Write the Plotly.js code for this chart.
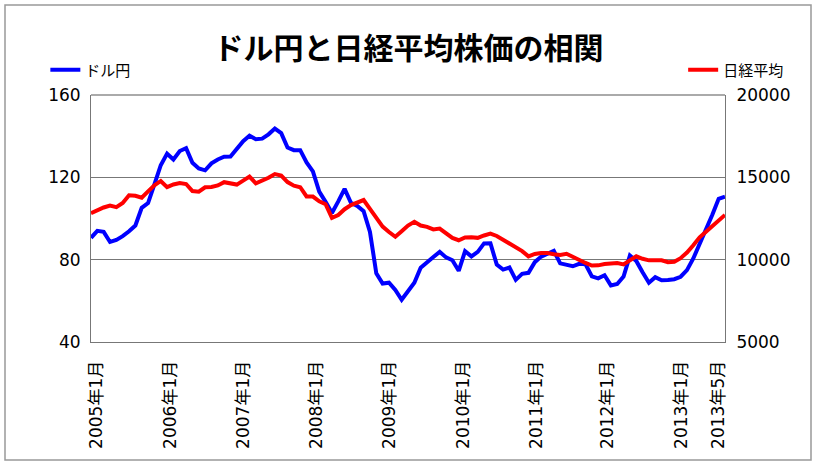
<!DOCTYPE html>
<html><head><meta charset="utf-8">
<script src="https://cdn.plot.ly/plotly-3.0.1.min.js"></script>
<style>html,body{margin:0;padding:0;background:#fff;} #chart{width:817px;height:466px;}</style>
</head><body><div id="chart"></div>
<script>
// USD/JPY (left axis), monthly 2005-01 .. 2013-05
const usdJpy = [90.6, 94.0, 93.5, 88.6, 89.6, 91.4, 93.8, 96.6, 105.2, 107.5,
116.6, 125.9, 131.5, 128.7, 132.8, 134.2, 127.1, 124.3, 123.4, 126.8,
128.7, 130.0, 130.1, 134.1, 137.6, 140.2, 138.5, 138.8, 140.9, 143.7,
141.5, 134.5, 133.2, 133.2, 127.2, 122.9, 113.1, 108.1, 102.7, 108.3,
114.4, 107.6, 106.1, 103.6, 93.5, 73.4, 68.4, 68.8, 65.3, 60.5,
64.5, 68.8, 76.1, 78.9, 81.3, 83.8, 81.1, 79.7, 74.6, 84.1,
81.6, 83.8, 87.9, 88.0, 77.6, 75.2, 76.2, 70.2, 73.1, 73.6,
78.8, 81.5, 83.1, 84.3, 78.2, 77.6, 76.8, 78.0, 77.8, 71.9,
70.9, 72.4, 67.5, 68.2, 71.8, 82.0, 79.4, 73.9, 68.8, 71.5,
70.0, 70.1, 70.5, 71.7, 74.9, 80.6, 87.5, 94.5, 101.8, 109.6, 110.6];

// Nikkei average (right axis)
const nikkei = [12820, 13010, 13170, 13290, 13190, 13440, 13910, 13880, 13760, 14150,
14520, 14780, 14400, 14565, 14655, 14595, 14170, 14125, 14395, 14410,
14505, 14705, 14655, 14560, 14800, 15050, 14640, 14780, 14970, 15200,
15110, 14710, 14490, 14400, 13840, 13830, 13540, 13370, 12540, 12715,
13065, 13315, 13480, 13620, 13080, 12500, 12010, 11680, 11390, 11730,
12075, 12300, 12070, 11990, 11840, 11890, 11585, 11320, 11180, 11350,
11365, 11325, 11470, 11585, 11440, 11205, 10950, 10685, 10520, 10200,
10345, 10405, 10405, 10325, 10290, 10355, 10150, 9995, 9800, 9645,
9655, 9735, 9790, 9790, 9715, 9990, 10205, 10055, 9960, 9960,
9960, 9845, 9875, 10090, 10430, 10875, 11355, 11700, 12055, 12405, 12720];

const tickLabels = ['2005年1月','2006年1月','2007年1月','2008年1月','2009年1月','2010年1月','2011年1月','2012年1月','2013年1月','2013年5月'];
const tickPos = [0.8, 12.5, 24.1, 35.6, 47.1, 58.7, 70.2, 81.5, 93.1, 98.9];

const leftTicks = [40, 80, 120, 160];
const rightTicks = [5000, 10000, 15000, 20000];

const months = usdJpy.map((_, i) => i);

const FONT = 'DejaVu Sans, "Noto Sans CJK JP", sans-serif';
const CJK = '"Noto Sans CJK JP", sans-serif';

const traces = [
  {x: months, y: usdJpy, name: 'ドル円', type: 'scatter', mode: 'lines',
   line: {color: '#0000ff', width: 4}, yaxis: 'y', legend: 'legend'},
  {x: months, y: nikkei, name: '日経平均', type: 'scatter', mode: 'lines',
   line: {color: '#ff0000', width: 4}, yaxis: 'y2', legend: 'legend2'}
];

const layout = {
  width: 817, height: 466,
  margin: {l: 91, r: 92, t: 95, b: 124},
  paper_bgcolor: '#fff', plot_bgcolor: '#fff',
  font: {family: FONT, size: 17, color: '#000'},
  title: {text: 'ドル円と日経平均株価の相関', font: {family: CJK, size: 30, weight: 'bold', color: '#000'},
          x: 0.5, xanchor: 'center', xref: 'container', y: 0.895, yanchor: 'middle', yref: 'container'},
  showlegend: true,
  legend: {x: -0.072, xanchor: 'left', y: 1.101, yanchor: 'middle', bgcolor: 'rgba(0,0,0,0)',
           font: {family: CJK, size: 15}},
  legend2: {x: 0.934, xanchor: 'left', y: 1.101, yanchor: 'middle', bgcolor: 'rgba(0,0,0,0)',
           font: {family: CJK, size: 15}},
  xaxis: {range: [0, 100], tickvals: tickPos, ticktext: tickLabels, tickangle: -90,
          showgrid: false, zeroline: false, showline: true, linecolor: '#777', linewidth: 1,
          ticks: '', ticklabelstandoff: 11, tickfont: {family: FONT, size: 17}},
  yaxis: {range: [40, 160], tickvals: leftTicks, showgrid: true, gridcolor: '#777', gridwidth: 1,
          zeroline: false, showline: true, linecolor: '#777', linewidth: 1, ticks: '',
          ticklabelstandoff: 6, tickfont: {family: FONT, size: 17}},
  yaxis2: {range: [5000, 20000], tickvals: rightTicks, tickformat: 'd', overlaying: 'y', side: 'right',
           showgrid: false, zeroline: false, showline: true, linecolor: '#777', linewidth: 1,
           ticks: '', ticklabelstandoff: 7, tickfont: {family: FONT, size: 17}},
  shapes: [
    {type: 'line', xref: 'paper', yref: 'paper', x0: 0, x1: 1, y0: 1, y1: 1,
     line: {color: '#aaa', width: 2}},
    {type: 'rect', xref: 'paper', yref: 'paper', x0: (5-91)/634, x1: (811-91)/634,
     y0: (342-460)/247, y1: (342-5)/247, line: {color: '#999', width: 1.5}, layer: 'below'}
  ]
};

Plotly.newPlot('chart', traces, layout, {displayModeBar: false, staticPlot: true});
</script>
</body></html>
